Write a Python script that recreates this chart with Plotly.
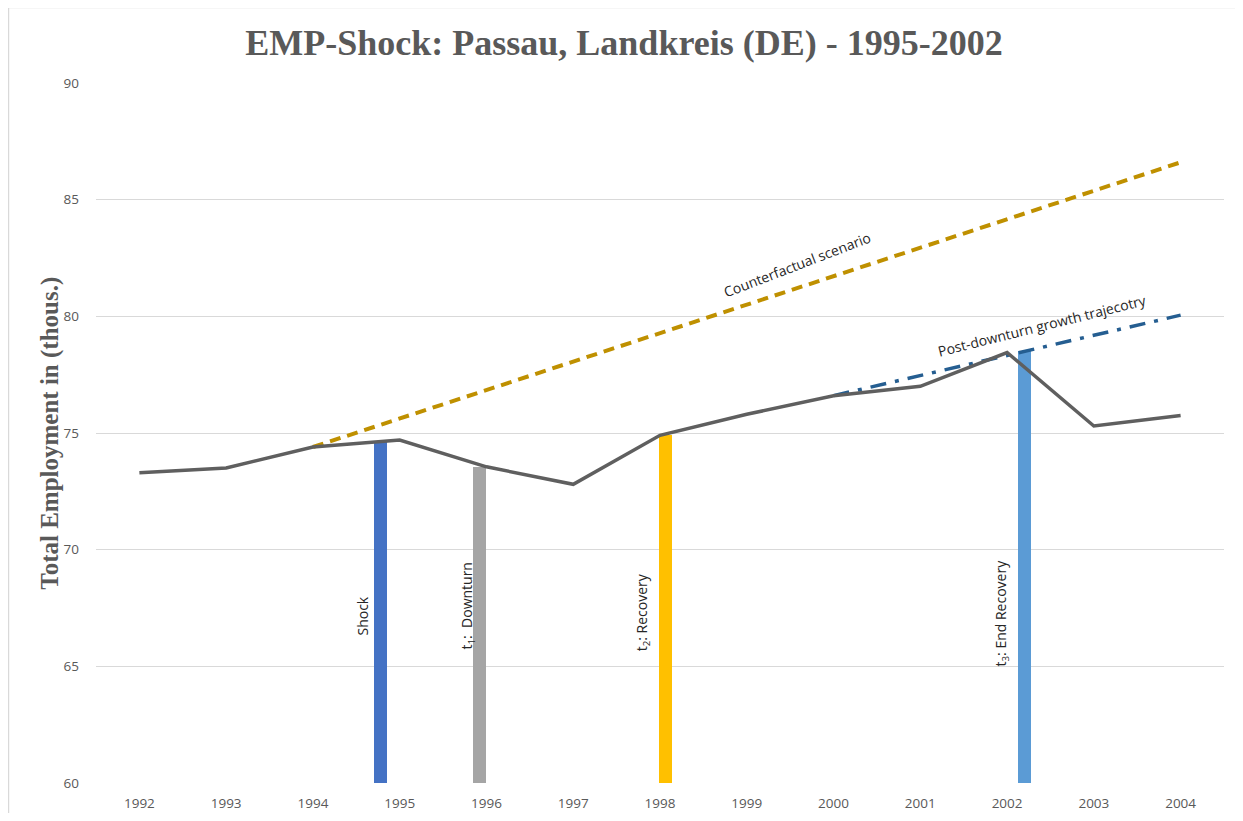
import plotly.graph_objects as go

years = [1992, 1993, 1994, 1995, 1996, 1997, 1998, 1999, 2000, 2001, 2002, 2003, 2004]
employment = [73.3, 73.5, 74.4, 74.7, 73.55, 72.8, 74.9, 75.8, 76.6, 77.0, 78.45, 75.3, 75.75]

cf_years = [1994, 2004]
cf_values = [74.4, 86.6]

pd_years = [2000, 2004]
pd_values = [76.6, 80.05]

bar_x = [1994.78, 1995.92, 1998.06, 2002.2]
bar_values = [74.65, 73.55, 74.9, 78.5]
bar_colors = ["#4472C4", "#A5A5A5", "#FFC000", "#5B9BD5"]
bar_labels = ["Shock", "t<sub>1</sub>:  Downturn", "t<sub>2</sub>: Recovery", "t<sub>3</sub>: End Recovery"]
label_x = [1994.57, 1995.78, 1997.80, 2001.94]
label_y = [67.15, 67.58, 67.3, 67.3]

y_ticks = [60, 65, 70, 75, 80, 85, 90]

fig = go.Figure()

fig.add_trace(go.Bar(x=bar_x, y=bar_values, width=0.15, marker=dict(color=bar_colors, line=dict(width=0)),
                     showlegend=False, hoverinfo="skip"))

fig.add_trace(go.Scatter(x=cf_years, y=cf_values, mode="lines",
                         line=dict(color="#BF9000", width=4, dash="11px,7px"), showlegend=False))
fig.add_trace(go.Scatter(x=pd_years, y=pd_values, mode="lines",
                         line=dict(color="#255E91", width=3.5, dash="16px,9px,4px,9px"), showlegend=False))
fig.add_trace(go.Scatter(x=years, y=employment, mode="lines",
                         line=dict(color="#5F5F5F", width=3.5), showlegend=False))

ann_font = dict(family="Open Sans, sans-serif", size=14, color="#262626")
annotations = []
for lx, ly, txt in zip(label_x, label_y, bar_labels):
    annotations.append(dict(x=lx, y=ly, xref="x", yref="y", text=txt, showarrow=False,
                            textangle=-90, font=ann_font, xanchor="center", yanchor="middle"))
annotations.append(dict(x=1999.58, y=82.24, xref="x", yref="y", text="Counterfactual scenario",
                        showarrow=False, textangle=-21, font=ann_font, xanchor="center", yanchor="middle"))
annotations.append(dict(x=2002.40, y=79.6, xref="x", yref="y", text="Post-downturn growth trajecotry",
                        showarrow=False, textangle=-14, font=ann_font, xanchor="center", yanchor="middle"))
annotations.append(dict(x=-0.041, y=0.5, xref="paper", yref="paper", text="<b>Total Employment in (thous.)</b>",
                        showarrow=False, textangle=-90, xanchor="center", yanchor="middle",
                        font=dict(family="Liberation Serif, serif", size=25, color="#595959")))

# page body has an 8px margin: figure sized to fit the 1243x821 window exactly
fig.update_layout(
    width=1227, height=805,
    margin=dict(l=88, r=11, t=75, b=30),
    paper_bgcolor="white", plot_bgcolor="white",
    title=dict(text="<b>EMP-Shock: Passau, Landkreis (DE) - 1995-2002</b>",
               x=(624 - 8) / 1227, xanchor="center", y=1 - 34 / 805, yanchor="middle",
               font=dict(family="Liberation Serif, serif", size=36, color="#595959")),
    annotations=annotations,
    shapes=[dict(type="rect", xref="paper", yref="paper", x0=-0.0776, x1=1.03, y0=-0.08, y1=1.108,
                 line=dict(color="#D9D9D9", width=1.5), fillcolor="rgba(0,0,0,0)", layer="below")],
    bargap=0,
)

fig.update_xaxes(range=[1991.5, 2004.5], tickmode="array", tickvals=years, ticktext=[str(y) for y in years],
                 showgrid=False, zeroline=False, showline=False, ticks="", automargin=False,
                 tickfont=dict(family="Open Sans, sans-serif", size=13.5, color="#595959"),
                 ticklabelstandoff=10)
fig.update_yaxes(range=[60, 90], tickmode="array", tickvals=y_ticks, showgrid=True, gridcolor="#D9D9D9",
                 gridwidth=1, zeroline=False, showline=False, ticks="", automargin=False,
                 tickfont=dict(family="Open Sans, sans-serif", size=13.5, color="#595959"),
                 ticklabelstandoff=16)

fig.write_html("out.html")
